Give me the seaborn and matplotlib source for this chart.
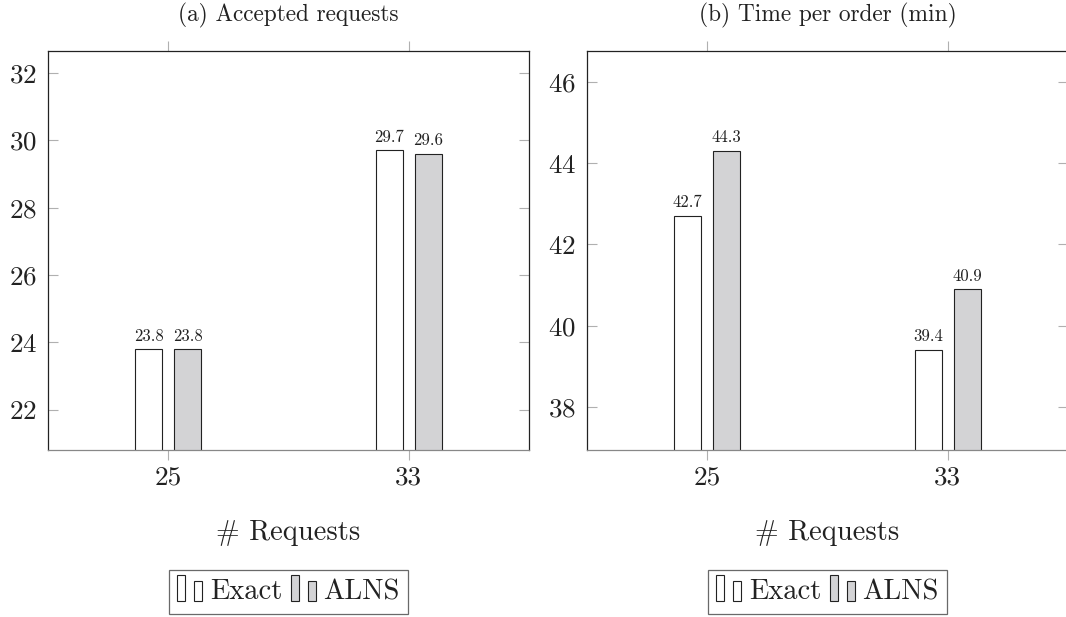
import numpy as np
import pandas as pd
import seaborn as sns
import matplotlib.pyplot as plt
from matplotlib.patches import Rectangle

# data
requests = ["25", "33"]
methods = ["Exact", "ALNS"]
accepted_exact = [23.8, 29.7]
accepted_alns = [23.8, 29.6]
time_exact = [42.7, 39.4]
time_alns = [44.3, 40.9]

titles = ["(a) Accepted requests", "(b) Time per order (min)"]
ylims = [(20.81, 32.65), (36.94, 46.76)]
yticks = [[22, 24, 26, 28, 30, 32], [38, 40, 42, 44, 46]]


def make_df(exact, alns):
    rows = []
    for r, e, a in zip(requests, exact, alns):
        rows.append({"requests": r, "method": "Exact", "value": e})
        rows.append({"requests": r, "method": "ALNS", "value": a})
    return pd.DataFrame(rows)


dfs = [make_df(accepted_exact, accepted_alns), make_df(time_exact, time_alns)]

sns.set_style("white")
plt.rcParams["font.family"] = ["cmr10", "DejaVu Serif"]
plt.rcParams["mathtext.fontset"] = "cm"
plt.rcParams["axes.formatter.use_mathtext"] = True

colors = {"Exact": "white", "ALNS": "#d3d3d5"}


# pgfplots style legend image: two small bars
class TwoBars:
    def legend_artist(self, legend, orig_handle, fontsize, handlebox):
        x0, y0 = handlebox.xdescent, handlebox.ydescent
        w, h = handlebox.width, handlebox.height
        fc = orig_handle.get_facecolor()
        tr = handlebox.get_transform()
        r1 = Rectangle((x0, y0 - 0.1 * h), w * 0.28, h * 1.3, fc=fc, ec="#222222", lw=0.8, transform=tr)
        r2 = Rectangle((x0 + w * 0.6, y0 - 0.1 * h), w * 0.28, h * 1.0, fc=fc, ec="#222222", lw=0.8, transform=tr)
        handlebox.add_artist(r1)
        handlebox.add_artist(r2)
        return r1


fig = plt.figure(figsize=(10.66, 6.17), dpi=100)
W, H = 1066, 617
lefts = [48, 587]

for i, df in enumerate(dfs):
    ax = fig.add_axes([lefts[i] / W, (H - 450) / H, 481 / W, 399 / H])
    sns.barplot(data=df, x="requests", y="value", hue="method", order=requests,
                hue_order=methods, palette=colors, saturation=1, width=0.325, gap=0.3,
                edgecolor="#222222", linewidth=0.8, legend=False, ax=ax)
    for cont in ax.containers:
        ax.bar_label(cont, fmt="%.1f", padding=4, fontsize=12, color="#222222")

    ax.set_xlim(-0.5, 1.5)
    ax.set_ylim(*ylims[i])
    ax.set_yticks(yticks[i])
    ax.set_title(titles[i], fontsize=16.8, pad=21, color="#222222")
    ax.set_xlabel("# Requests", fontsize=20.5, labelpad=22, color="#222222")
    ax.set_ylabel("")

    ax.tick_params(axis="x", direction="out", top=True, bottom=True, length=7,
                   width=0.8, color="#b0b0b0", labelsize=19.5, pad=4, labelcolor="#222222")
    ax.tick_params(axis="y", direction="in", left=True, right=True, length=7,
                   width=0.8, color="#b0b0b0", labelsize=19.5, pad=8, labelcolor="#222222")
    for side in ["left", "right", "top"]:
        ax.spines[side].set_color("#222222")
        ax.spines[side].set_linewidth(0.9)
    ax.spines["bottom"].set_color("#888888")
    ax.spines["bottom"].set_linewidth(0.9)

    handles = [Rectangle((0, 0), 1, 1, fc=colors[m]) for m in methods]
    leg = ax.legend(handles, methods, handler_map={Rectangle: TwoBars()},
                    loc="center", bbox_to_anchor=(0.5, -0.356), ncol=2, fontsize=20.5,
                    frameon=True, fancybox=False, edgecolor="#444444",
                    handlelength=1.0, handleheight=0.7, handletextpad=0.15,
                    columnspacing=0.3, borderpad=0.3)
    leg.get_frame().set_linewidth(0.9)
    for t in leg.get_texts():
        t.set_color("#222222")

fig.savefig("out.png", dpi=100)
